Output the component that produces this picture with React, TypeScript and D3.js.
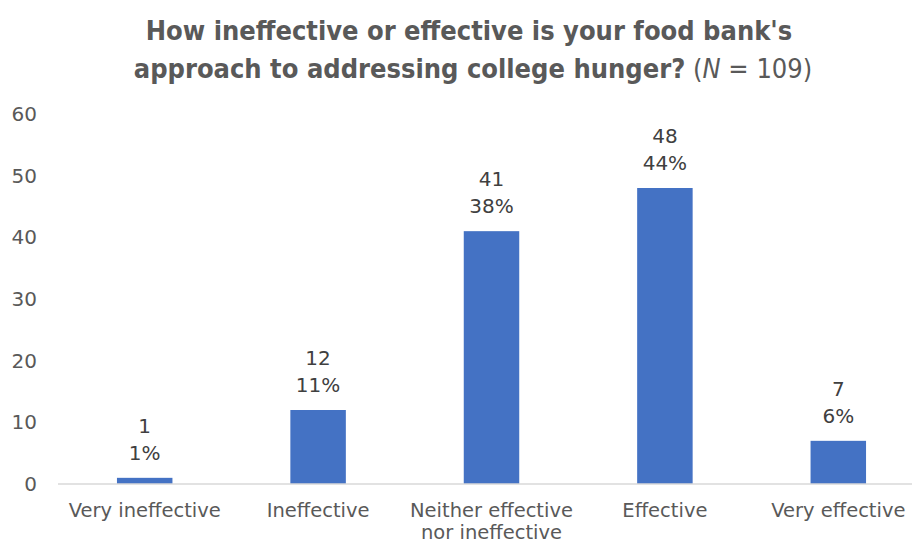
import React from "react";
import * as d3 from "d3";

const categories = ["Very ineffective", "Ineffective", "Neither effective\nnor ineffective", "Effective", "Very effective"];
const counts = [1, 12, 41, 48, 7];
const percents = ["1%", "11%", "38%", "44%", "6%"];
const yTicks = [0, 10, 20, 30, 40, 50, 60];

const W = 912, H = 544;
const FONT = "'DejaVu Sans', sans-serif";
const TFONT = "'DejaVu Sans Condensed', 'DejaVu Sans', sans-serif";
const GRAY = "#595959";

export default function App() {
  const x = d3.scaleBand<string>().domain(categories).range([58, 925]).paddingInner(0.68).paddingOuter(0.34);
  const y = d3.scaleLinear().domain([0, 60]).range([484, 114]);
  return (
    <svg width={W} height={H} style={{ position: "absolute", left: 0, top: 0, background: "#fff" }}>
      <text x={469} y={40} textAnchor="middle" fontFamily={TFONT} fontSize={27} fontWeight="bold" fill={GRAY}>
        How ineffective or effective is your food bank's
      </text>
      <text x={473} y={78} textAnchor="middle" fontFamily={TFONT} fontSize={27} fill={GRAY}>
        <tspan fontWeight="bold">approach to addressing college hunger?</tspan>
        <tspan> (</tspan>
        <tspan fontStyle="italic">N</tspan>
        <tspan> = 109)</tspan>
      </text>
      {yTicks.map((t) => (
        <text key={t} x={37} y={y(t) + 7} textAnchor="end" fontFamily={FONT} fontSize={20} fill={GRAY}>
          {t}
        </text>
      ))}
      {categories.map((c, i) => {
        const cx = x(c)! + x.bandwidth() / 2;
        return (
          <g key={c}>
            <rect x={x(c)} y={y(counts[i])} width={x.bandwidth()} height={y(0) - y(counts[i])} fill="#4472C4" />
            <text x={cx} y={y(counts[i]) - 45} textAnchor="middle" fontFamily={FONT} fontSize={20} fill="#404040">
              {counts[i]}
            </text>
            <text x={cx} y={y(counts[i]) - 18} textAnchor="middle" fontFamily={FONT} fontSize={20} fill="#404040">
              {percents[i]}
            </text>
            {c.split("\n").map((line, j) => (
              <text key={j} x={cx} y={517 + j * 22} textAnchor="middle" fontFamily={FONT} fontSize={19.5} fill={GRAY}>
                {line}
              </text>
            ))}
          </g>
        );
      })}
      <line x1={58} x2={925} y1={y(0)} y2={y(0)} stroke="#d9d9d9" strokeWidth={1.5} />
    </svg>
  );
}
